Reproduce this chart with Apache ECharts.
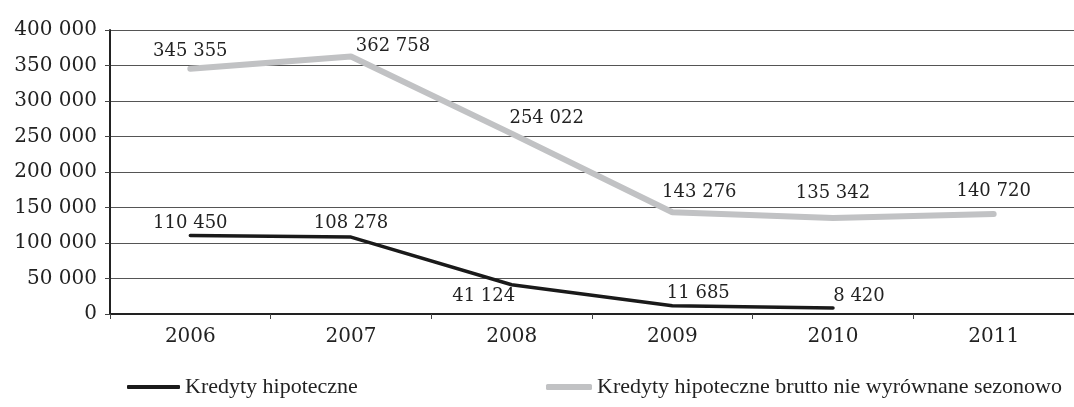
<!DOCTYPE html>
<html>
<head>
<meta charset="utf-8">
<script src="https://cdn.jsdelivr.net/npm/echarts@6/dist/echarts.min.js"></script>
<style>
  html, body { margin: 0; padding: 0; background: #fff; }
  #chart { width: 1074px; height: 407px; }
</style>
</head>
<body>
<div id="chart"></div>
<script>
var years = ['2006', '2007', '2008', '2009', '2010', '2011'];
var hipoteczne = [110450, 108278, 41124, 11685, 8420, null];
var brutto = [345355, 362758, 254022, 143276, 135342, 140720];
var seriesNames = ['Kredyty hipoteczne', 'Kredyty hipoteczne brutto nie wyrównane sezonowo'];

// przesunięcia etykiet względem punktu (x, y)
var offsHip = [[0, -12], [0, -14], [-28, 12], [26, -12], [26, -12]];
var offsBrutto = [[0, -17], [42, -10], [35, -15], [27, -20], [0, -25], [0, -23]];

var numFont = 'DejaVu Serif';
var textCol = '#222';

function fmt(v) {
    return String(v).replace(/\B(?=(\d{3})+(?!\d))/g, ' ');
}

function withLabels(values, offs) {
    return values.map(function (v, i) {
        if (v == null) return v;
        return { value: v, label: { offset: offs[i] } };
    });
}

var chart = echarts.init(document.getElementById('chart'));

var legendText = { fontFamily: 'Liberation Serif', fontSize: 22, color: textCol };

var option = {
    animation: false,
    grid: { left: 110, right: -13, top: 30, bottom: 93 },
    legend: [
        {
            data: [{ name: seriesNames[0], icon: 'roundRect' }],
            left: 122, top: 371,
            itemWidth: 53, itemHeight: 4,
            textStyle: legendText
        },
        {
            data: [{ name: seriesNames[1], icon: 'roundRect' }],
            left: 541, top: 371,
            itemWidth: 46, itemHeight: 6,
            textStyle: legendText
        }
    ],
    xAxis: {
        type: 'category',
        data: years,
        boundaryGap: true,
        axisLine: { lineStyle: { color: '#222', width: 2 } },
        axisTick: { show: true, length: 5, lineStyle: { color: '#444', width: 1 } },
        axisLabel: { margin: 13, fontFamily: numFont, fontSize: 20, color: textCol }
    },
    yAxis: {
        type: 'value',
        min: 0,
        max: 400000,
        interval: 50000,
        axisLine: { show: true, lineStyle: { color: '#222', width: 2 } },
        axisTick: { show: true, length: 5, lineStyle: { color: '#444' } },
        splitLine: { lineStyle: { color: '#555', width: 1 } },
        axisLabel: {
            margin: 13, fontFamily: numFont, fontSize: 20, color: textCol,
            formatter: fmt
        }
    },
    series: [
        {
            name: seriesNames[0],
            type: 'line',
            data: withLabels(hipoteczne, offsHip),
            color: '#1a1a1a',
            symbol: 'circle', symbolSize: 1,
            lineStyle: { width: 3.5, color: '#1a1a1a', cap: 'round' },
            label: {
                show: true, position: 'inside',
                fontFamily: numFont, fontSize: 18, color: textCol,
                formatter: function (p) { return fmt(p.value); }
            },
            z: 3
        },
        {
            name: seriesNames[1],
            type: 'line',
            data: withLabels(brutto, offsBrutto),
            color: '#c1c2c4',
            symbol: 'circle', symbolSize: 1,
            lineStyle: { width: 6, color: '#c1c2c4', cap: 'round' },
            label: {
                show: true, position: 'inside',
                fontFamily: numFont, fontSize: 18, color: textCol,
                formatter: function (p) { return fmt(p.value); }
            },
            z: 2
        }
    ]
};

chart.setOption(option);
</script>
</body>
</html>
